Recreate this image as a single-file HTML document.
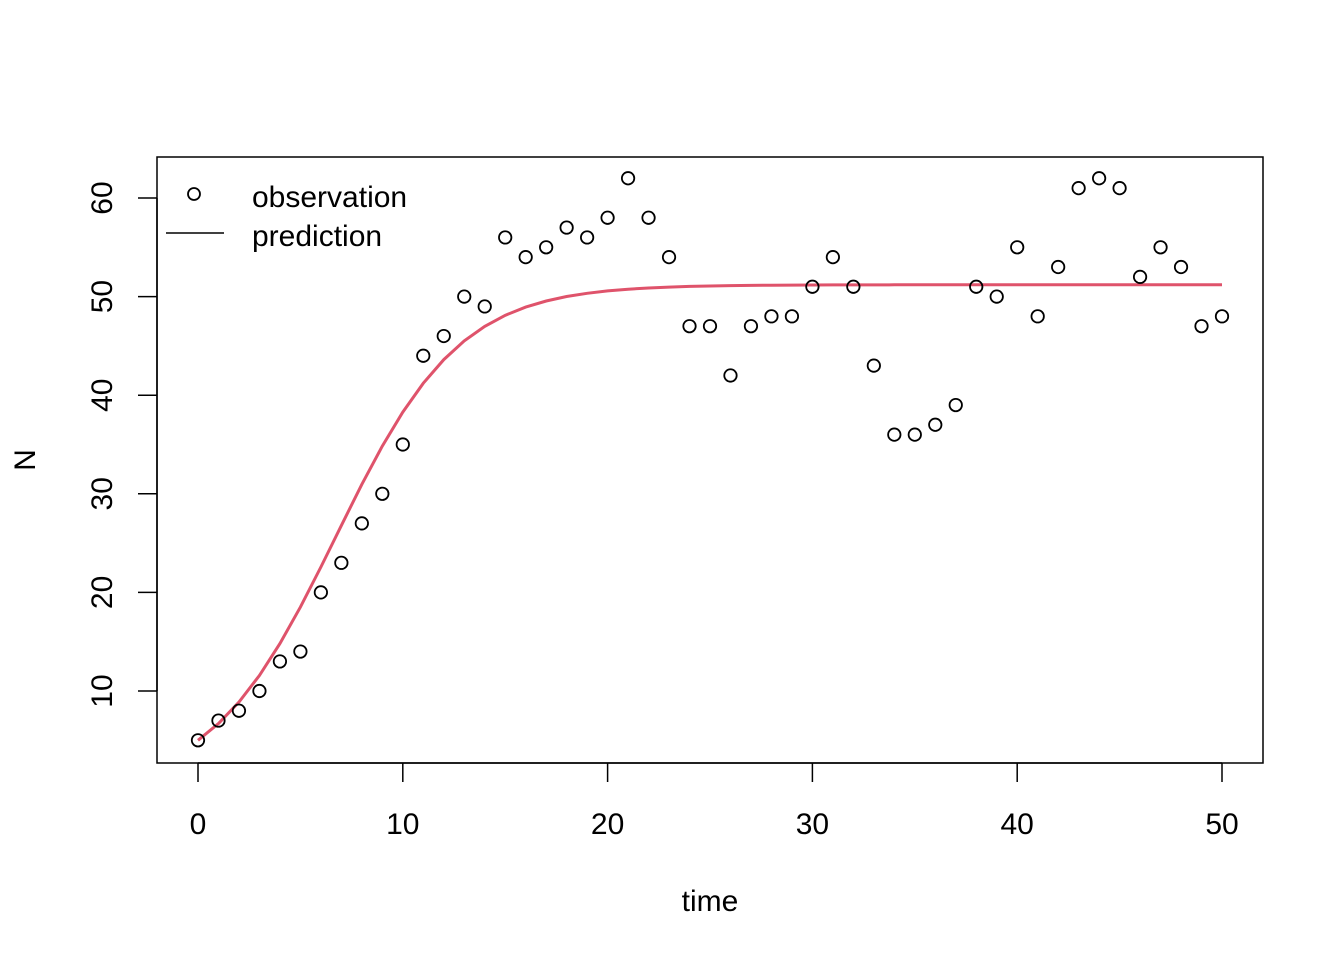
<!DOCTYPE html>
<html><head><meta charset="utf-8"><style>
html,body{margin:0;padding:0;background:#fff;}
svg{display:block;font-family:"Liberation Sans",Arial,sans-serif;}
</style></head><body>
<svg id="s" width="1344" height="960" xmlns="http://www.w3.org/2000/svg">
<rect width="1344" height="960" fill="#fff"/>
<rect x="157" y="157" width="1106" height="606" fill="none" stroke="#000" stroke-width="1.5"/>
<g id="ax" stroke="#000" stroke-width="1.5"></g>
<g id="lab" font-size="30" fill="#000"></g>
<text x="710" y="911" font-size="30" text-anchor="middle">time</text>
<text transform="translate(35,460) rotate(-90)" font-size="30" text-anchor="middle">N</text>
<polyline id="curve" fill="none" stroke="#DF536B" stroke-width="3"/>
<g id="pts" fill="none" stroke="#000" stroke-width="1.8"></g>
<circle cx="194" cy="194" r="6" fill="none" stroke="#000" stroke-width="1.8"/>
<line x1="166" y1="233" x2="224" y2="233" stroke="#000" stroke-width="1.5"/>
<text x="252" y="207" font-size="30">observation</text>
<text x="252" y="246" font-size="30">prediction</text>
</svg>
<script>
var ns="http://www.w3.org/2000/svg";
function X(t){return 198+t*20.48;}
function Y(v){return 691-(v-10)*9.86;}
var ax=document.getElementById('ax'),lab=document.getElementById('lab');
function el(p,n,a,txt){var e=document.createElementNS(ns,n);for(var k in a)e.setAttribute(k,a[k]);if(txt!==undefined)e.textContent=txt;p.appendChild(e);return e;}
el(ax,'line',{x1:X(0),x2:X(50),y1:763,y2:763});
for(var t=0;t<=50;t+=10){el(ax,'line',{x1:X(t),x2:X(t),y1:763,y2:782});el(lab,'text',{x:X(t),y:834,'text-anchor':'middle'},t);}
el(ax,'line',{x1:157,x2:157,y1:Y(10),y2:Y(60)});
for(var v=10;v<=60;v+=10){el(ax,'line',{x1:138,x2:157,y1:Y(v),y2:Y(v)});el(lab,'text',{transform:'translate(112,'+Y(v)+') rotate(-90)','text-anchor':'middle'},v);}
var d=[5,7,8,10,13,14,20,23,27,30,35,44,46,50,49,56,54,55,57,56,58,62,58,54,47,47,42,47,48,48,51,54,51,43,36,36,37,39,51,50,55,48,53,61,62,61,52,55,53,47,48];
var pts=document.getElementById('pts');
d.forEach(function(v,i){el(pts,'circle',{cx:X(i),cy:Y(v),r:6.2});});
var K=51.2,N0=5,r=0.331,s=[];
for(var t=0;t<=50;t+=1){var n=K/(1+((K-N0)/N0)*Math.exp(-r*t));s.push(X(t).toFixed(1)+','+Y(n).toFixed(1));}
document.getElementById('curve').setAttribute('points',s.join(' '));
</script>
</body></html>
